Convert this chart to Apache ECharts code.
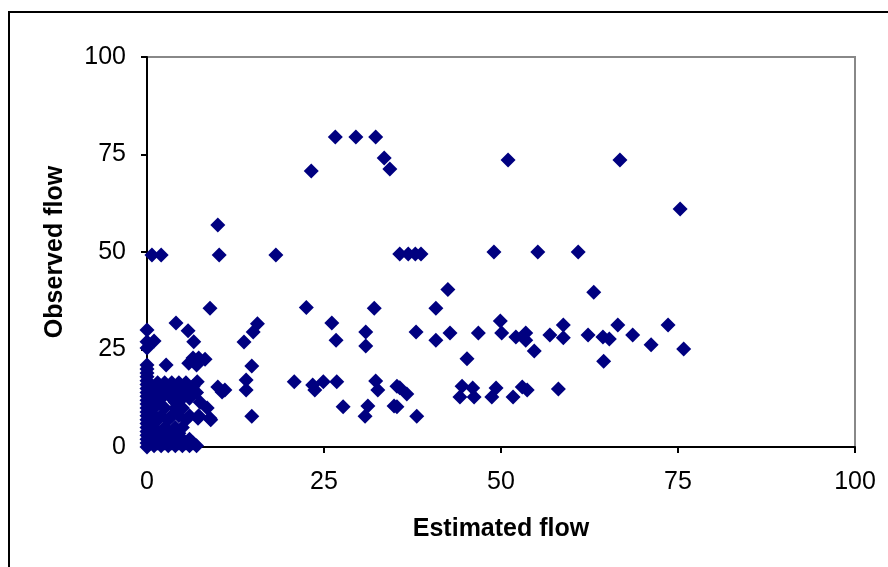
<!DOCTYPE html>
<html>
<head>
<meta charset="utf-8">
<script src="https://cdn.jsdelivr.net/npm/echarts@6/dist/echarts.min.js"></script>
<style>
html,body{margin:0;padding:0;background:#fff;}
#main{width:888px;height:567px;}
</style>
</head>
<body>
<div id="main"></div>
<script>
//坐标轴刻度
var axisTicks = [0, 25, 50, 75, 100];

//估计流量（x）
var estimatedFlow = [
	26.6, 29.5, 32.3, 33.5, 34.3, 23.2, 51.0, 66.8, 75.3, 10.0,
	10.2, 0.7, 2.0, 18.2, 35.7, 36.9, 37.9, 38.7, 49.0, 55.2,
	60.9, 42.5, 63.1, 8.9, 4.1, 5.8, 6.6, 0, 0, 1.0,
	0, 13.7, 15.0, 15.6, 22.5, 32.1, 40.8, 26.1, 26.7, 30.9,
	30.9, 38.0, 40.8, 42.8, 46.8, 49.9, 50.1, 52.1, 53.5, 53.5,
	56.9, 58.8, 58.8, 54.7, 45.2, 62.3, 64.4, 65.3, 66.5, 68.6,
	64.5, 71.2, 73.6, 75.8, 44.5, 46.0, 44.2, 46.2, 49.3, 48.7,
	51.7, 53.0, 53.7, 58.1, 14.8, 14.0, 14.0, 11.0, 10.0, 20.8,
	23.4, 23.7, 24.9, 26.8, 32.3, 32.6, 35.3, 35.7, 36.7, 14.8,
	27.7, 31.2, 30.8, 34.9, 35.3, 38.1, 0, 2.7, 5.9, 6.5,
	7.3, 8.2, 7.0, 8.9, 7.2, 7.1, 10.6,
	//原点附近
	0, 0, 0, 0, 0, 0, 0, 0, 0, 0,
	0, 0, 0, 0, 0, 0, 0, 0, 0, 0, 0,
	1.5, 2.5, 3.5, 4.5, 5.5,
	1.0, 2.0, 3.0, 4.0, 5.0, 6.5,
	1.5, 3.0, 4.5, 6.0, 7.0,
	1.0, 2.0, 3.5, 5.0, 6.0,
	1.5, 4.0, 7.5,
	1.0, 2.5, 4.0, 5.0, 8.5,
	1.0, 2.0, 3.5, 4.5, 6.0, 7.3,
	1.5, 3.0, 5.5, 9.0,
	1.0, 2.5, 4.0, 5.0,
	1.5, 3.0, 4.5,
	1.0, 2.0, 3.0, 4.0, 5.0, 6.0,
	0.5, 1.5, 2.5, 3.5, 4.5, 5.5, 6.5,
	1.0, 2.0, 3.0, 4.0, 5.0, 6.0, 7.0
];

//观测流量（y）
var observedFlow = [
	79.5, 79.5, 79.5, 74.1, 71.3, 70.8, 73.6, 73.6, 61.0, 56.9,
	49.2, 49.2, 49.2, 49.2, 49.5, 49.5, 49.5, 49.5, 50.0, 50.0,
	50.0, 40.4, 39.7, 35.6, 31.8, 29.8, 27.0, 30.0, 27.0, 27.2,
	25.4, 26.9, 29.5, 31.6, 35.8, 35.6, 35.6, 31.8, 27.4, 29.5,
	25.9, 29.5, 27.4, 29.2, 29.2, 32.3, 29.2, 28.2, 29.2, 27.4,
	28.7, 31.3, 28.0, 24.6, 22.6, 28.7, 28.2, 27.7, 31.3, 28.7,
	22.0, 26.2, 31.3, 25.1, 15.6, 15.1, 12.8, 12.8, 15.1, 12.8,
	12.8, 15.4, 14.6, 14.9, 20.8, 17.2, 14.6, 14.6, 15.4, 16.7,
	15.9, 14.6, 16.7, 16.7, 16.9, 14.6, 15.6, 15.2, 13.6, 7.9,
	10.3, 10.5, 7.9, 10.5, 10.3, 7.9, 21.0, 21.0, 21.5, 22.8,
	22.8, 22.5, 21.0, 7.4, 7.4, 16.7, 14.1,
	//原点附近
	0, 1, 2, 3, 4, 5, 6, 7, 8, 9,
	10, 11, 12, 13, 14, 15, 16, 17, 18, 19, 20,
	16.5, 16.5, 16.5, 16.5, 16.5,
	15.5, 15.5, 15.5, 15.5, 15.5, 15.5,
	14.0, 14.0, 14.0, 14.0, 14.0,
	12.5, 12.5, 12.5, 12.5, 12.5,
	11.5, 11.5, 11.5,
	10.0, 10.0, 10.0, 10.0, 10.0,
	8.0, 8.0, 8.0, 8.0, 8.0, 8.0,
	7.0, 7.0, 7.0, 7.0,
	5.0, 5.0, 5.0, 5.0,
	3.5, 3.5, 3.5,
	2.0, 2.0, 2.0, 2.0, 2.0, 2.0,
	1.0, 1.0, 1.0, 1.0, 1.0, 1.0, 1.0,
	0.3, 0.3, 0.3, 0.3, 0.3, 0.3, 0.3
];

var points = [];
for (var i = 0; i < estimatedFlow.length; i++) {
	points.push([estimatedFlow[i], observedFlow[i]]);
}

var myChart = echarts.init(document.getElementById('main'));

var fontName = 'Liberation Sans, Arial, sans-serif';
var labelFont = {color: '#000', fontSize: 25, fontFamily: fontName};

myChart.setOption({
	animation: false,
	backgroundColor: '#fff',
	grid: {
		left: 147, right: 33, top: 57, bottom: 120,
		show: true, borderColor: '#888', borderWidth: 2, backgroundColor: '#fff'
	},
	//外框
	graphic: [{
		type: 'rect',
		shape: {x: 9, y: 12, width: 900, height: 600},
		style: {fill: null, stroke: '#000', lineWidth: 2},
		z: 100
	}],
	xAxis: {
		type: 'value', min: axisTicks[0], max: axisTicks[axisTicks.length - 1], interval: 25,
		name: 'Estimated flow', nameLocation: 'middle', nameGap: 70,
		nameTextStyle: {color: '#000', fontSize: 25, fontWeight: 'bold', fontFamily: fontName},
		axisLine: {show: true, onZero: false, lineStyle: {color: '#000', width: 2}},
		axisTick: {show: true, inside: false, length: 6, lineStyle: {color: '#000', width: 2}},
		axisLabel: Object.assign({margin: 23}, labelFont),
		splitLine: {show: false}
	},
	yAxis: {
		type: 'value', min: axisTicks[0], max: axisTicks[axisTicks.length - 1], interval: 25,
		name: 'Observed flow', nameLocation: 'middle', nameGap: 79,
		nameTextStyle: {color: '#000', fontSize: 25, fontWeight: 'bold', fontFamily: fontName},
		axisLine: {show: true, onZero: false, lineStyle: {color: '#000', width: 2}},
		axisTick: {show: true, inside: false, length: 6, lineStyle: {color: '#000', width: 2}},
		axisLabel: Object.assign({margin: 21}, labelFont),
		splitLine: {show: false}
	},
	series: [{
		name: 'flow',
		type: 'scatter',
		symbol: 'diamond',
		symbolSize: 15,
		itemStyle: {color: '#000080', opacity: 1},
		data: points
	}]
});
</script>
</body>
</html>
